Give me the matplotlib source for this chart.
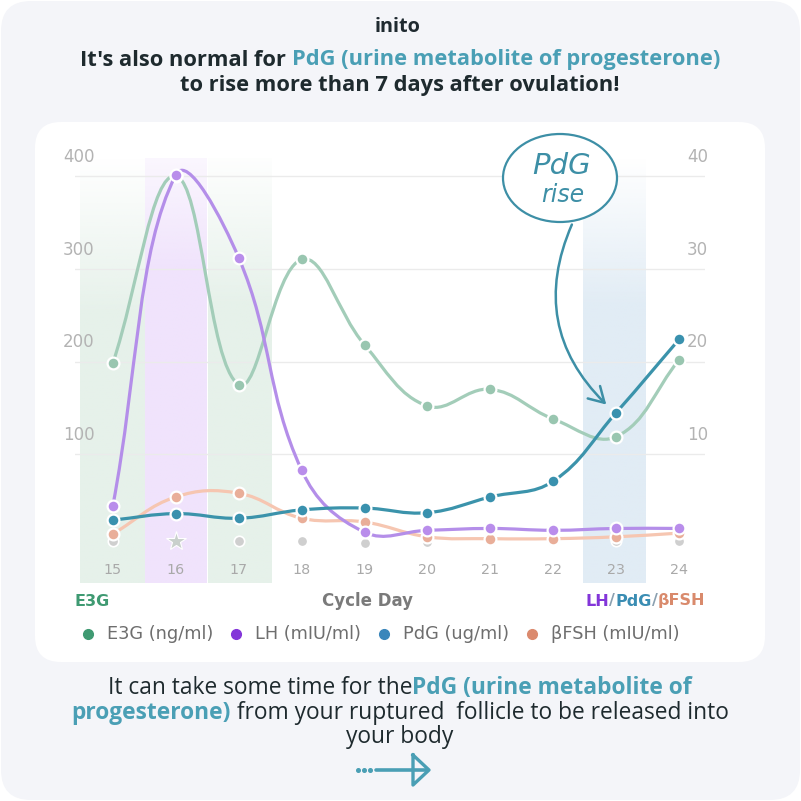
import numpy as np
import matplotlib
matplotlib.use('Agg')
import matplotlib.pyplot as plt
from matplotlib.path import Path
from matplotlib.patches import PathPatch, FancyBboxPatch, Ellipse, FancyArrowPatch

# ---------------- data ----------------
days = [15, 16, 17, 18, 19, 20, 21, 22, 23, 24]
e3g = [198, 400, 175, 310, 218, 152, 170, 138, 119, 202]          # ng/ml (left axis)
lh = [4.4, 40.1, 31.2, 8.3, 1.6, 1.8, 2.0, 1.8, 2.0, 2.0]         # mIU/ml (right axis)
pdg = [2.9, 3.6, 3.1, 4.0, 4.2, 3.7, 5.4, 7.1, 14.5, 22.4]        # ug/ml (right axis)
fsh = [1.4, 5.4, 5.8, 3.1, 2.7, 1.1, 0.9, 0.9, 1.1, 1.5]          # mIU/ml (right axis)
test_days = [15, 17, 18, 19, 20, 21, 22, 23, 24]
test_marks = [0.6, 0.7, 0.7, 0.45, 0.5, 0.6, 0.6, 0.6, 0.6]       # grey test markers
peak_day = [16]
peak_mark = [0.7]
left_ticks = [100, 200, 300, 400]
right_ticks = [10, 20, 30, 40]
legend_labels = ['E3G (ng/ml)', 'LH (mIU/ml)', 'PdG (ug/ml)', '\u03b2FSH (mIU/ml)']

# ---------------- colours ----------------
C_E3G_L, C_E3G_D, C_E3G_LEG = '#a3cdb9', '#99c6b0', '#3f9a72'
C_LH_L, C_LH_D, C_LH_LEG = '#b48ee9', '#b98deb', '#8336d9'
C_PDG_L, C_PDG_D, C_PDG_LEG = '#3b93ab', '#3991ae', '#3a86bb'
C_FSH_L, C_FSH_D, C_FSH_LEG = '#f6c6b1', '#e9ae99', '#db8a6e'
TEAL = '#4a9fb5'
DARK = '#1e2a2e'

W = H = 801
fig = plt.figure(figsize=(W / 100, H / 100), dpi=100)
fig.patch.set_facecolor('white')

bg = fig.add_axes([0, 0, 1, 1], zorder=0)
bg.set_xlim(0, W); bg.set_ylim(H, 0); bg.axis('off')
bg.add_patch(FancyBboxPatch((1, 1), W - 2, H - 2, boxstyle='round,pad=0,rounding_size=30',
                            fc='#f4f5f9', ec='none'))
bg.add_patch(FancyBboxPatch((35, 122), 730, 540, boxstyle='round,pad=0,rounding_size=26',
                            fc='white', ec='none'))

# ---------------- data axes ----------------
AX_L, AX_R, AX_T, AX_B = 75, 705, 158, 583
ax = fig.add_axes([AX_L / W, (H - AX_B) / H, (AX_R - AX_L) / W, (AX_B - AX_T) / H], zorder=2)
ax.patch.set_alpha(0)
ax2 = ax.twinx()
ax2.set_zorder(3)
ax2.set_ylim(-3.88, 41.94)
for a in (ax, ax2):
    for s in a.spines.values():
        s.set_visible(False)
    a.set_xticks([])
    a.tick_params(length=0, labelleft=False, labelright=False, labelbottom=False)
ax2.set_yticks([])
ax.set_yticks(left_ticks)
ax.grid(axis='y', color='#ebebeb', lw=1)
ax.set_axisbelow(True)


def band(x0, x1, rgb, fade_top, fade_full):
    n = 200
    ys = np.linspace(-38.8, 419.4, n)
    alpha = np.clip((fade_top - ys) / (fade_top - fade_full), 0, 1)
    img = np.zeros((n, 1, 4))
    img[:, 0, :3] = matplotlib.colors.to_rgb(rgb)
    img[:, 0, 3] = alpha
    ax.imshow(img, extent=(x0, x1, -38.8, 419.4), origin='lower', aspect='auto',
              interpolation='bilinear', zorder=0)


band(14.48, 15.51, '#e6f1ea', 420, 250)
band(15.51, 16.48, '#f0e3fc', 470, 300)
band(16.51, 17.52, '#e6f1ea', 430, 260)
band(22.47, 23.47, '#e1ecf5', 420, 260)
ax.set_xlim(14.40, 24.41)
ax.set_ylim(-38.8, 419.4)
ax2.set_xlim(14.40, 24.41)


def smooth_path(axis, xs, ys, t=0.4):
    pts = axis.transData.transform(np.column_stack([xs, ys]))
    n = len(pts)
    cp_prev = np.zeros_like(pts)
    cp_next = np.zeros_like(pts)
    for i in range(n):
        p0 = pts[max(i - 1, 0)]
        p1 = pts[i]
        p2 = pts[min(i + 1, n - 1)]
        d01 = np.hypot(*(p1 - p0)); d12 = np.hypot(*(p2 - p1))
        tot = d01 + d12
        s01 = d01 / tot if tot else 0
        s12 = d12 / tot if tot else 0
        cp_prev[i] = p1 - t * s01 * (p2 - p0)
        cp_next[i] = p1 + t * s12 * (p2 - p0)
    verts = [pts[0]]
    codes = [Path.MOVETO]
    for i in range(n - 1):
        verts += [cp_next[i], cp_prev[i + 1], pts[i + 1]]
        codes += [Path.CURVE4] * 3
    verts = axis.transData.inverted().transform(np.array(verts))
    return Path(verts, codes)


def series(axis, ys, lc, dc, z):
    axis.add_patch(PathPatch(smooth_path(axis, days, ys), fc='none', ec=lc, lw=2.3,
                             capstyle='round', zorder=z))
    axis.plot(days, ys, 'o', ms=8.5, mfc=dc, mec='white', mew=1.6, zorder=z + 0.5)


ax2.plot(test_days, test_marks, 'o', ms=7.5, mfc='#cfcfcf', mec='white', mew=1.2, zorder=1)
ax2.plot(peak_day, peak_mark, '*', ms=15, mfc='#c9d0cc', mec='white', mew=0.8, zorder=1)
series(ax, e3g, C_E3G_L, C_E3G_D, 2)
series(ax2, fsh, C_FSH_L, C_FSH_D, 3)
series(ax2, lh, C_LH_L, C_LH_D, 4)
series(ax2, pdg, C_PDG_L, C_PDG_D, 5)

# tick labels
for v in left_ticks:
    ax.text(-0.019, v + 20.5, str(v), transform=ax.get_yaxis_transform(), ha='left',
            va='center', color='#b3b3b3', fontsize=12, family='DejaVu Sans')
for v in right_ticks:
    ax2.text(1.005, v + 2.05, str(v), transform=ax2.get_yaxis_transform(), ha='right',
             va='center', color='#b3b3b3', fontsize=12, family='DejaVu Sans')
for d in days:
    ax.text(d, -24.8, str(d), ha='center', va='center', color='#a9a9a9', fontsize=10.3,
            family='DejaVu Sans')

# ---------------- overlay (text, annotations) ----------------
fg = fig.add_axes([0, 0, 1, 1], zorder=5)
fg.set_xlim(0, W); fg.set_ylim(H, 0); fg.axis('off'); fg.patch.set_alpha(0)
renderer = fig.canvas.get_renderer()


def rich(y, segs, size, family, cx=400.0, anchor='center', width=None):
    ts = []
    for s, col, wt in segs:
        ts.append(fg.text(0, y, s, color=col, fontsize=size, fontweight=wt, family=family,
                          ha='left', va='center'))
    widths = [t.get_window_extent(renderer).width for t in ts]
    total = sum(widths)
    if width is not None:
        size = size * width / total
        for t in ts:
            t.set_fontsize(size)
        widths = [t.get_window_extent(renderer).width for t in ts]
        total = sum(widths)
    x = cx - total / 2 if anchor == 'center' else (cx - total if anchor == 'right' else cx)
    for t, w in zip(ts, widths):
        t.set_x(x)
        x += w
    return size


rich(27, [('inito', '#1f2a30', 'bold')], 14, 'Open Sans', cx=398, width=46)
TF = 'Open Sans'
ts_ = rich(60, [("It's also normal for ", DARK, 'bold'),
                ('PdG (urine metabolite of progesterone)', TEAL, 'bold')], 14, TF, width=644)
rich(86, [('to rise more than 7 days after ovulation!', DARK, 'bold')], ts_, TF)

# axis captions
rich(601, [('E3G', '#3f9a72', 'bold')], 11.5, 'DejaVu Sans', cx=75, anchor='left')
rich(601, [('Cycle Day', '#7a7a7a', 'bold')], 12, 'DejaVu Sans', cx=367, width=91)
rich(601, [('LH', '#8336d9', 'bold'), ('/', '#8aa0b0', 'bold'), ('PdG', '#3a8db3', 'bold'),
           ('/', '#8aa0b0', 'bold'), ('\u03b2FSH', '#d98a6c', 'bold')], 11.5, 'DejaVu Sans',
     cx=705, anchor='right')

# legend
leg_cols = [C_E3G_LEG, C_LH_LEG, C_PDG_LEG, C_FSH_LEG]
dot_x = [88, 236, 384, 532]
for x, col, lab in zip(dot_x, leg_cols, legend_labels):
    fg.plot([x], [634], 'o', ms=7, color=col)
    fg.text(x + 19, 634, lab, ha='left', va='center', fontsize=12.8, color='#6e6e6e',
            family='DejaVu Sans')

# bottom text
BF = 'Open Sans'
bs_ = rich(713, [('progesterone)', TEAL, 'bold'),
                 (' from your ruptured  follicle to be released into', DARK, 'normal')], 14, BF,
           width=662)
rich(688, [('It can take some time for the', DARK, 'normal'),
           ('PdG (urine metabolite of', TEAL, 'bold')], bs_, BF)
rich(737, [('your body', DARK, 'normal')], bs_, BF)

# bottom arrow
for x in (358, 364, 370):
    fg.plot([x], [770], 'o', ms=2.6, color=TEAL)
fg.plot([376, 426], [770, 770], color=TEAL, lw=2.6, solid_capstyle='round')
fg.plot([413, 429, 413, 413], [755, 770, 785, 755], color=TEAL, lw=2.4,
        solid_joinstyle='round')

# PdG rise annotation
fg.add_patch(Ellipse((560, 178), 114, 88, fc='white', ec='#3d8fa6', lw=1.6))
fg.text(562, 166, 'PdG', ha='center', va='center', fontsize=21, color='#3d8fa6',
        style='italic', fontweight='ultralight', family='DejaVu Sans')
fg.text(563, 195, 'rise', ha='center', va='center', fontsize=17, color='#3d8fa6',
        style='italic', fontweight='ultralight', family='DejaVu Sans')
# arrow end derived from the day-23 PdG point
px, py = ax2.transData.transform((days[8], pdg[8]))
ex, ey = fg.transData.inverted().transform((px, py))
fg.add_patch(FancyArrowPatch((573, 222), (ex - 8, ey - 6), connectionstyle='arc3,rad=0.35',
                             arrowstyle='->,head_length=0.6,head_width=0.35',
                             mutation_scale=18, color='#3d8fa6', lw=1.8))

fig.savefig('out.png', dpi=100, facecolor='white')
